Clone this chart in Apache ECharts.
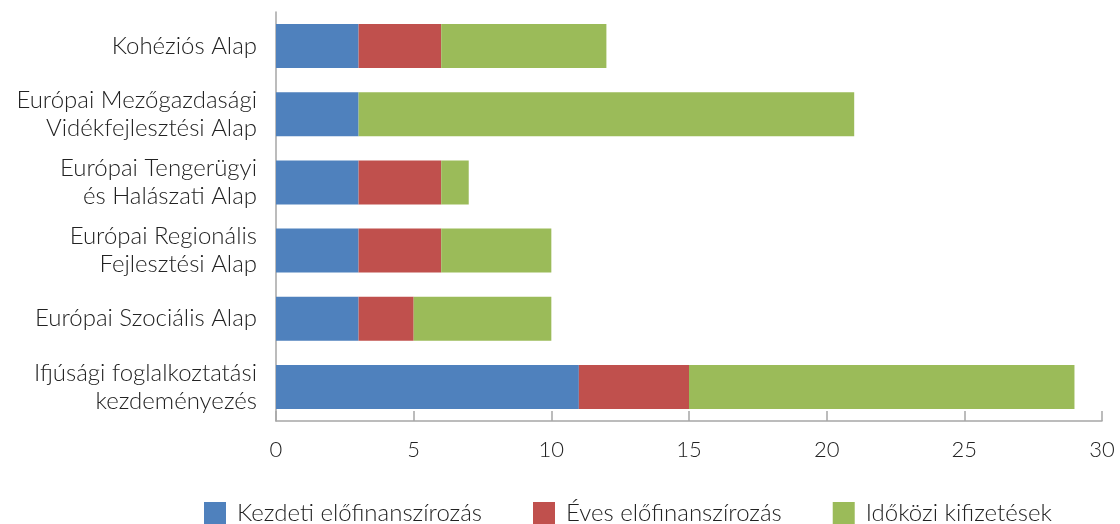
<!DOCTYPE html>
<html>
<head>
<meta charset="utf-8">
<script src="https://cdn.jsdelivr.net/npm/echarts@6/dist/echarts.min.js"></script>
<style>
  html, body { margin: 0; padding: 0; background: #fff; }
  #chart { width: 1120px; height: 524px; }
</style>
</head>
<body>
<div id="chart"></div>
<script>
// categories from bottom to top (category axis on y starts at the bottom)
const categories = [
  "Ifjúsági foglalkoztatási\nkezdeményezés",
  "Európai Szociális Alap",
  "Európai Regionális\nFejlesztési Alap",
  "Európai Tengerügyi\nés Halászati Alap",
  "Európai Mezőgazdasági\nVidékfejlesztési Alap",
  "Kohéziós Alap"
];
const seriesNames = ["Kezdeti előfinanszírozás", "Éves előfinanszírozás", "Időközi kifizetések"];
const kezdeti = [11, 3, 3, 3, 3, 3];
const eves = [4, 2, 3, 3, 0, 3];
const idokozi = [14, 5, 4, 1, 18, 6];
const colors = ["#4F81BD", "#C0504D", "#9BBB59"];

const font = "Lato";
const chart = echarts.init(document.getElementById("chart"));

const mkSeries = (name, data, color) => ({
  name: name,
  type: "bar",
  stack: "total",
  data: data,
  barWidth: 44,
  itemStyle: { color: color },
  emphasis: { disabled: true }
});

chart.setOption({
  animation: false,
  textStyle: { fontFamily: font },
  grid: { left: 276, right: 18, top: 12, bottom: 103 },
  legend: {
    left: 204,
    top: 501,
    padding: 0,
    icon: "rect",
    itemWidth: 22,
    itemHeight: 22,
    itemGap: 51,
    textStyle: { fontFamily: font, fontSize: 24, fontWeight: 300, color: "#222", padding: [6, 0, 0, 6] },
    data: seriesNames
  },
  xAxis: {
    type: "value",
    min: 0,
    max: 30,
    interval: 5,
    axisLine: { show: true, lineStyle: { color: "#a6a6a6", width: 1.5 } },
    axisTick: { show: true, inside: true, length: 10, lineStyle: { color: "#a6a6a6", width: 1.5 } },
    splitLine: { show: false },
    axisLabel: { fontFamily: font, fontSize: 22, fontWeight: 300, color: "#222", margin: 18 }
  },
  yAxis: {
    type: "category",
    data: categories,
    axisLine: { show: true, lineStyle: { color: "#a6a6a6", width: 1.5 } },
    axisTick: { show: false },
    axisLabel: { fontFamily: font, fontSize: 24, fontWeight: 300, color: "#222", margin: 19, lineHeight: 28, align: "right" }
  },
  series: [
    mkSeries(seriesNames[0], kezdeti, colors[0]),
    mkSeries(seriesNames[1], eves, colors[1]),
    mkSeries(seriesNames[2], idokozi, colors[2])
  ]
});
</script>
</body>
</html>
